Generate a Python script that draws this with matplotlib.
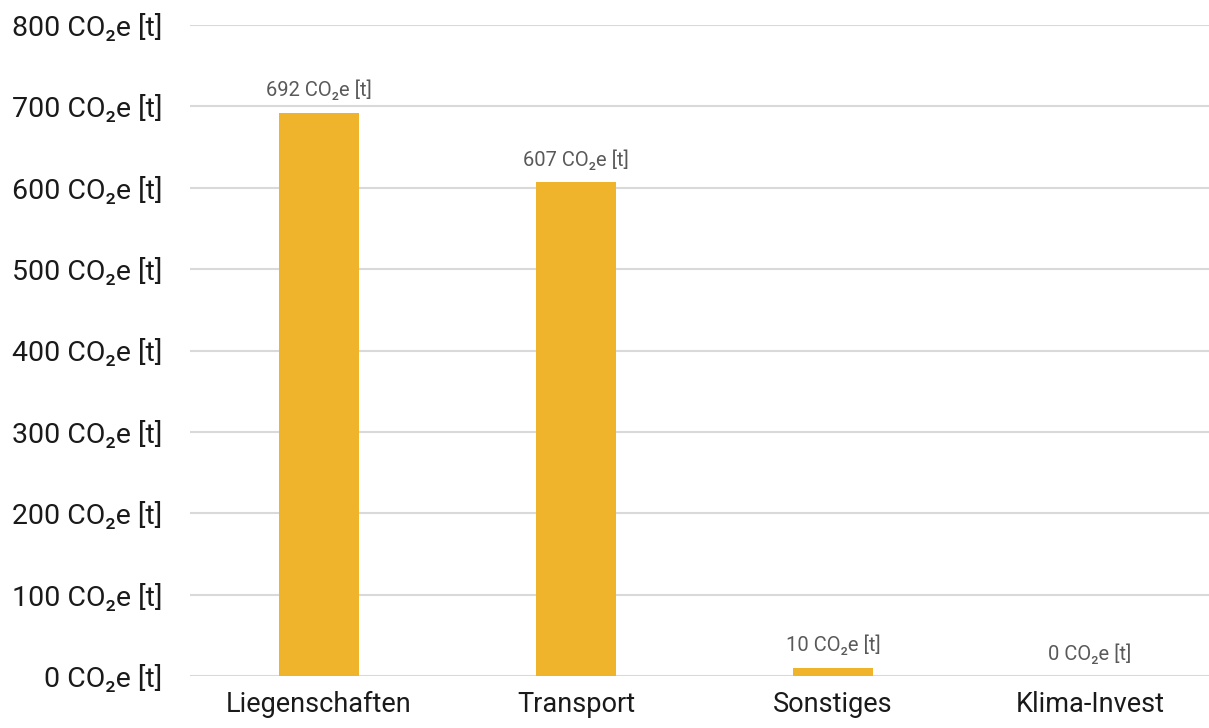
import matplotlib
matplotlib.use("Agg")
import matplotlib.pyplot as plt

categories = ["Liegenschaften", "Transport", "Sonstiges", "Klima-Invest"]
values = [692, 607, 10, 0]
yticks = [0, 100, 200, 300, 400, 500, 600, 700, 800]
unit = "CO\u2082e [t]"

plt.rcParams['font.family'] = ['Roboto', 'DejaVu Sans']

fig = plt.figure(figsize=(12.09, 7.28), dpi=100)
W, H = 1209, 728
ax = fig.add_axes([190.5 / W, (H - 676) / H, (W - 190.5) / W, (676 - 25) / H])

x = list(range(len(categories)))
ax.bar(x, values, width=0.31, color="#F0B42C", zorder=3)

ax.set_ylim(0, 800)
ax.set_xlim(-0.5, 3.5 - (1218.5 - W) / 257)
ax.set_yticks(yticks)
ax.set_yticklabels([f"{v} {unit}" for v in yticks], fontsize=20.5, color="#1a1a1a")
ax.set_xticks(x)
ax.set_xticklabels(categories, fontsize=19.5, color="#1a1a1a")
ax.yaxis.grid(True, color="#D9D9D9", linewidth=1.5, zorder=0)
ax.tick_params(axis="both", length=0)
ax.tick_params(axis="y", pad=20)
ax.tick_params(axis="x", pad=11)
for s in ax.spines.values():
    s.set_visible(False)

for xi, v in zip(x, values):
    ax.annotate(f"{v} {unit}", (xi, v), xytext=(0, 9), textcoords="offset points",
                ha="center", va="bottom", fontsize=14.5, color="#595959")

fig.savefig("out.png", dpi=100)
